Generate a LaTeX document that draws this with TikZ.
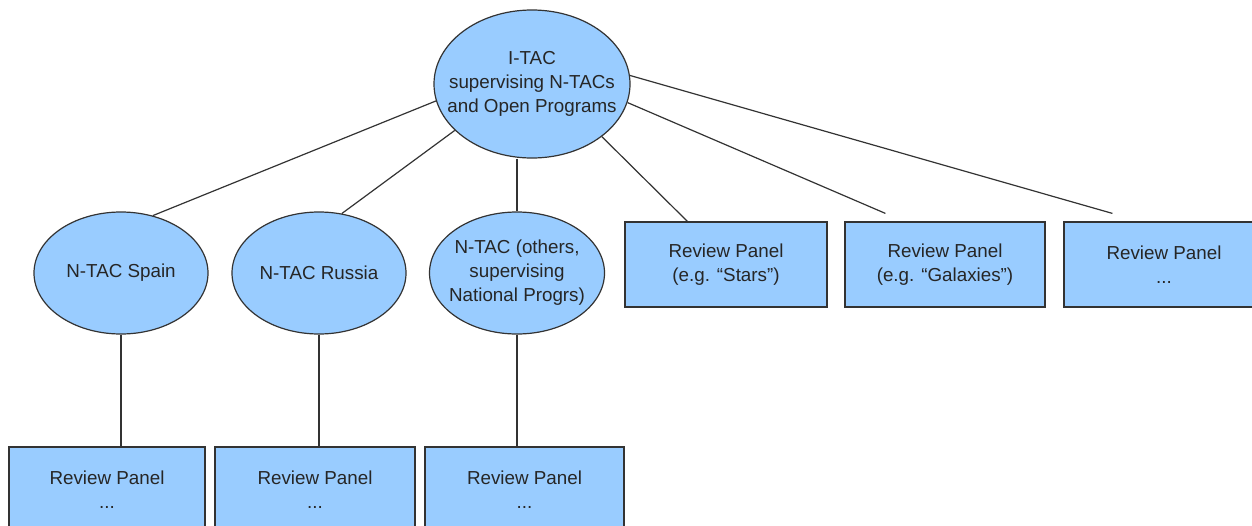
\documentclass[tikz,border=0pt]{standalone}
\usepackage{fontspec}
\setmainfont{Liberation Sans}
\usetikzlibrary{shapes.geometric,calc}
\definecolor{fillblue}{RGB}{153,204,255}
\definecolor{edgegray}{RGB}{51,51,51}
\tikzset{
  base/.style={draw=edgegray, line width=1.2pt, fill=fillblue, align=center, inner sep=0pt,
    font=\fontsize{18.8}{24}\selectfont, text=black!85},
  oval/.style={base, ellipse, inner xsep=-30pt, inner ysep=-10pt},
  panel/.style={base, rectangle, minimum height=85pt},
  link/.style={draw=edgegray, line width=1.2pt}
}
\begin{document}
\begin{tikzpicture}[x=1pt,y=-1pt]
\useasboundingbox[fill=white] (0,0) rectangle (1252,525);
% nodes
\node[oval, minimum width=196pt, minimum height=148pt] (itac) at (532,84) {I-TAC\\supervising N-TACs\\and Open Programs};
\node[oval, minimum width=174pt, minimum height=122pt] (spain) at (121,273) {N-TAC Spain};
\node[oval, minimum width=174pt, minimum height=122pt] (russia) at (319,273) {N-TAC Russia};
\node[oval, minimum width=175pt, minimum height=122pt] (others) at (517,273) {N-TAC (others,\\supervising\\National Progrs)};
\node[panel, minimum width=202pt] (stars) at (726,264.5) {Review Panel\\(e.g. ``Stars'')};
\node[panel, minimum width=200pt] (galax) at (945,264.5) {Review Panel\\(e.g. ``Galaxies'')};
\node[panel, minimum width=200pt] (more) at (1164,264.5) {Review Panel\\...};
\node[panel, minimum width=196pt] (bspain) at (107,489.5) {Review Panel\\...};
\node[panel, minimum width=200pt] (brussia) at (315,489.5) {Review Panel\\...};
\node[panel, minimum width=199pt] (bothers) at (524.5,489.5) {Review Panel\\...};
% free ends of connectors
\coordinate (egal) at ($(galax.north west)+(41,-8)$);
\coordinate (emore) at ($(more.north west)+(49,-8)$);
\coordinate (estars) at ($(stars.north west)+(63,0)$);
% connectors
\draw[link] (itac.190.9) -- (spain.61.9);
\draw[link] (itac.211.3) -- (russia.69);
\draw[link] (itac.south -| others.north) -- (others.north);
\draw[link] (itac.323.1) -- (estars);
\draw[link] (itac.349.8) -- (egal);
\draw[link] (itac.5.1) -- (emore);
\draw[link] (spain.south) -- (spain.south |- bspain.north);
\draw[link] (russia.south) -- (russia.south |- brussia.north);
\draw[link] (others.south) -- (others.south |- bothers.north);
\end{tikzpicture}
\end{document}
